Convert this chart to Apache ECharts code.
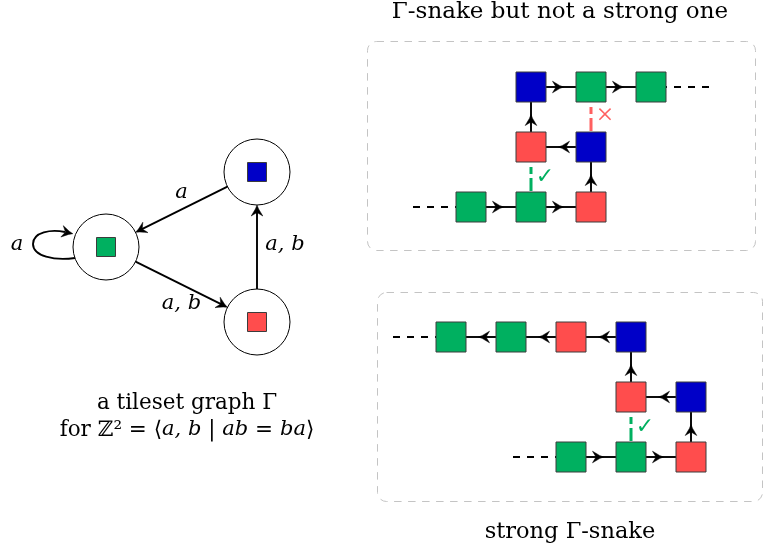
<!DOCTYPE html>
<html><head><meta charset="utf-8">
<script src="https://cdn.jsdelivr.net/npm/echarts@6/dist/echarts.min.js"></script>
<style>html,body{margin:0;padding:0;background:#fff}#c{width:764px;height:552px}</style>
</head><body><div id="c"></div>
<script>
// ---------------- data ----------------
// tileset graph Γ (node layout in abstract units)
const graphNodeTile = ['green', 'blue', 'red'];
const graphNodeX = [0, 2, 2];
const graphNodeY = [0, 1, -1];
const graphEdgeFrom = [1, 0, 2];
const graphEdgeTo = [0, 2, 1];
const graphEdgeLabel = ['a', 'a, b', 'a, b'];
const graphEdgeLabelSide = ['above', 'below', 'right'];
const graphLoopNode = [0];
const graphLoopLabel = ['a'];
const graphCaption1 = 'a tileset graph Γ';
const graphCaption2 = '{r|for ℤ² = ⟨}{i|a, b}{r| | }{i|ab}{r| = }{i|ba}{r|⟩}';

// Γ-snake that is not strong (cells in walking order)
const snake1Title = 'Γ-snake but not a strong one';
const snake1Tile = ['green', 'green', 'red', 'blue', 'red', 'blue', 'green', 'green'];
const snake1Col = [0, 1, 2, 2, 1, 1, 2, 3];
const snake1Row = [0, 0, 0, 1, 1, 2, 2, 2];
const snake1CheckA = [4, 6];
const snake1CheckB = [1, 3];
const snake1CheckOk = [true, false];

// strong Γ-snake
const snake2Title = 'strong Γ-snake';
const snake2Tile = ['green', 'green', 'red', 'blue', 'red', 'blue', 'red', 'green', 'green'];
const snake2Col = [2, 3, 4, 4, 3, 3, 2, 1, 0];
const snake2Row = [0, 0, 0, 1, 1, 2, 2, 2, 2];
const snake2CheckA = [4];
const snake2CheckB = [1];
const snake2CheckOk = [true];

// ---------------- styles ----------------
const TILE_COLOR = { green: '#00b060', blue: '#0000c8', red: '#ff4d4d' };
const TILE_STROKE = '#3c3c3c';
const TILE = 30, NODE_TILE = 19, NODE_R = 33;
const LW = 1.9;
const SERIF = '"DejaVu Serif", serif';
const SANS = '"DejaVu Sans", sans-serif';
const OK_COLOR = '#00b060', BAD_COLOR = '#ff6060';
const LABEL_OFFSET = { above: [0, -17], below: [0, 19], right: [28, -2] };

function unit(ax, ay, bx, by) {
  const dx = bx - ax, dy = by - ay, l = Math.hypot(dx, dy);
  return [dx / l, dy / l];
}
function arrowHead(tx, ty, ux, uy) {
  const px = -uy, py = ux;
  const pts = [[0, 0], [-4, 1.6], [-8, 4.0], [-11, 5.8], [-7.5, 0], [-11, -5.8], [-8, -4.0], [-4, -1.6]]
    .map(([a, b]) => [tx + ux * a + px * b, ty + uy * a + py * b]);
  return { type: 'polygon', shape: { points: pts }, style: { fill: '#000', stroke: '#000', lineWidth: 0.5 } };
}
function txt(x, y, text, size, italic, color, family) {
  return {
    type: 'text', x: x, y: y,
    style: {
      text: text, fontSize: size, fontFamily: family || SERIF, fontStyle: italic ? 'italic' : 'normal',
      fill: color || '#000', align: 'center', verticalAlign: 'middle', textAlign: 'center', textVerticalAlign: 'middle'
    }
  };
}

// ---------------- series builders ----------------
function cs(gi, data, renderItem) {
  return { type: 'custom', coordinateSystem: 'cartesian2d', xAxisIndex: gi, yAxisIndex: gi,
    silent: true, animation: false, data: data, renderItem: renderItem };
}

function graphSeries() {
  const edges = cs(0, graphEdgeFrom.map((f, i) => [graphNodeX[f], graphNodeY[f], graphNodeX[graphEdgeTo[i]], graphNodeY[graphEdgeTo[i]]]),
    (params, api) => {
      const a = api.coord([api.value(0), api.value(1)]);
      const b = api.coord([api.value(2), api.value(3)]);
      const [ux, uy] = unit(a[0], a[1], b[0], b[1]);
      const s = [a[0] + ux * NODE_R, a[1] + uy * NODE_R];
      const t = [b[0] - ux * NODE_R, b[1] - uy * NODE_R];
      const i = params.dataIndex;
      const mid = [(a[0] + b[0]) / 2, (a[1] + b[1]) / 2];
      const off = LABEL_OFFSET[graphEdgeLabelSide[i]];
      return { type: 'group', children: [
        { type: 'line', shape: { x1: s[0], y1: s[1], x2: t[0] - ux * 6, y2: t[1] - uy * 6 }, style: { stroke: '#000', lineWidth: LW } },
        arrowHead(t[0], t[1], ux, uy),
        txt(mid[0] + off[0], mid[1] + off[1], graphEdgeLabel[i], 21, true)
      ] };
    });
  const loops = cs(0, graphLoopNode.map(n => [graphNodeX[n], graphNodeY[n]]), (params, api) => {
    const c = api.coord([api.value(0), api.value(1)]);
    const X = c[0], Y = c[1];
    const end = [X - 41, Y - 15], cp2 = [X - 55, Y - 18];
    const [ux, uy] = unit(cp2[0], cp2[1], end[0], end[1]);
    return { type: 'group', children: [
      { type: 'bezierCurve', shape: { x1: X - 31, y1: Y + 11, cpx1: X - 52, cpy1: Y + 14, cpx2: X - 73, cpy2: Y + 9, x2: X - 73, y2: Y - 3 },
        style: { stroke: '#000', lineWidth: LW, fill: null } },
      { type: 'bezierCurve', shape: { x1: X - 73, y1: Y - 3, cpx1: X - 73, cpy1: Y - 15, cpx2: cp2[0], cpy2: cp2[1], x2: end[0], y2: end[1] },
        style: { stroke: '#000', lineWidth: LW, fill: null } },
      arrowHead(end[0] + ux * 8, end[1] + uy * 8, ux, uy),
      txt(X - 89, Y - 2, graphLoopLabel[params.dataIndex], 21, true)
    ] };
  });
  const nodes = cs(0, graphNodeX.map((x, i) => [x, graphNodeY[i]]), (params, api) => {
    const c = api.coord([api.value(0), api.value(1)]);
    return { type: 'group', children: [
      { type: 'circle', shape: { cx: c[0], cy: c[1], r: NODE_R }, style: { fill: '#fff', stroke: '#000', lineWidth: 1 } },
      { type: 'rect', shape: { x: c[0] - NODE_TILE / 2, y: c[1] - NODE_TILE / 2, width: NODE_TILE, height: NODE_TILE },
        style: { fill: TILE_COLOR[graphNodeTile[params.dataIndex]], stroke: TILE_STROKE, lineWidth: 1 } }
    ] };
  });
  return [edges, loops, nodes];
}

function snakeSeries(gi, tiles, cols, rows, chkA, chkB, chkOk) {
  const n = tiles.length;
  const half = TILE / 2;
  const links = cs(gi, cols.slice(0, -1).map((c, i) => [c, rows[i], cols[i + 1], rows[i + 1]]), (params, api) => {
    const a = api.coord([api.value(0), api.value(1)]);
    const b = api.coord([api.value(2), api.value(3)]);
    const [ux, uy] = unit(a[0], a[1], b[0], b[1]);
    const mid = [(a[0] + b[0]) / 2, (a[1] + b[1]) / 2];
    return { type: 'group', children: [
      { type: 'line', shape: { x1: a[0] + ux * half, y1: a[1] + uy * half, x2: b[0] - ux * half, y2: b[1] - uy * half },
        style: { stroke: '#000', lineWidth: LW } },
      arrowHead(mid[0] + ux * 2.5, mid[1] + uy * 2.5, ux, uy)
    ] };
  });
  const leads = cs(gi, [[cols[0], rows[0], cols[1], rows[1]], [cols[n - 1], rows[n - 1], cols[n - 2], rows[n - 2]]], (params, api) => {
    const a = api.coord([api.value(0), api.value(1)]);
    const b = api.coord([api.value(2), api.value(3)]);
    const [ux, uy] = unit(b[0], b[1], a[0], a[1]);
    return { type: 'line', shape: { x1: a[0] + ux * (half + 43), y1: a[1] + uy * (half + 43), x2: a[0] + ux * half, y2: a[1] + uy * half },
      style: { stroke: '#000', lineWidth: LW, lineDash: [7, 7] } };
  });
  const checks = cs(gi, chkA.map((ia, k) => [cols[ia], rows[ia], cols[chkB[k]], rows[chkB[k]]]), (params, api) => {
    const a = api.coord([api.value(0), api.value(1)]);
    const b = api.coord([api.value(2), api.value(3)]);
    const [ux, uy] = unit(a[0], a[1], b[0], b[1]);
    const ok = chkOk[params.dataIndex];
    const col = ok ? OK_COLOR : BAD_COLOR;
    const mid = [(a[0] + b[0]) / 2, (a[1] + b[1]) / 2];
    return { type: 'group', children: [
      { type: 'line', shape: { x1: a[0] + ux * (half + 5), y1: a[1] + uy * (half + 5), x2: b[0] - ux * (half + 1), y2: b[1] - uy * (half + 1) },
        style: { stroke: col, lineWidth: 3, lineDash: [7, 4, 13, 0] } },
      ok ? txt(mid[0] + 14, mid[1], '✓', 22, false, col, SANS)
         : txt(mid[0] + 14, mid[1] - 1, '×', 30, false, col, '"Liberation Serif", serif')
    ] };
  });
  const cells = cs(gi, cols.map((c, i) => [c, rows[i]]), (params, api) => {
    const c = api.coord([api.value(0), api.value(1)]);
    return { type: 'rect', shape: { x: c[0] - half, y: c[1] - half, width: TILE, height: TILE },
      style: { fill: TILE_COLOR[tiles[params.dataIndex]], stroke: TILE_STROKE, lineWidth: 1 } };
  });
  return [links, leads, checks, cells];
}

// ---------------- chart ----------------
const chart = echarts.init(document.getElementById('c'), null, { renderer: 'canvas' });
const titleStyle = (text, size) => ({ text: text, fontSize: size, fontFamily: SERIF, fill: '#000', textAlign: 'center', textVerticalAlign: 'middle', align: 'center', verticalAlign: 'middle' });
const boxStyle = { fill: 'none', stroke: '#c4c4c4', lineWidth: 1, lineDash: [7.5, 6.5] };
chart.setOption({
  animation: false,
  backgroundColor: '#fff',
  grid: [
    { left: 30.5, top: 97, width: 302, height: 300 },
    { left: 411, top: 27, width: 300, height: 240 },
    { left: 391, top: 277, width: 360, height: 240 }
  ],
  xAxis: [
    { gridIndex: 0, type: 'value', min: -1, max: 3, show: false },
    { gridIndex: 1, type: 'value', min: -1, max: 4, show: false },
    { gridIndex: 2, type: 'value', min: -1, max: 5, show: false }
  ],
  yAxis: [
    { gridIndex: 0, type: 'value', min: -2, max: 2, show: false },
    { gridIndex: 1, type: 'value', min: -1, max: 3, show: false },
    { gridIndex: 2, type: 'value', min: -1, max: 3, show: false }
  ],
  graphic: { elements: [
    { type: 'rect', z: -1, shape: { x: 367.5, y: 41.5, width: 388, height: 209, r: 9 }, style: boxStyle },
    { type: 'rect', z: -1, shape: { x: 377.5, y: 292.5, width: 385, height: 209, r: 9 }, style: boxStyle },
    { type: 'text', x: 560, y: 12, style: titleStyle(snake1Title, 23) },
    { type: 'text', x: 570, y: 532, style: titleStyle(snake2Title, 22.5) },
    { type: 'text', x: 187, y: 403, style: titleStyle(graphCaption1, 21.5) },
    { type: 'text', x: 187, y: 430, style: Object.assign(titleStyle(graphCaption2, 21.5), {
      rich: { r: { fontSize: 21.5, fontFamily: SERIF }, i: { fontSize: 21, fontFamily: SERIF, fontStyle: 'italic' } } }) }
  ] },
  series: [].concat(
    graphSeries(),
    snakeSeries(1, snake1Tile, snake1Col, snake1Row, snake1CheckA, snake1CheckB, snake1CheckOk),
    snakeSeries(2, snake2Tile, snake2Col, snake2Row, snake2CheckA, snake2CheckB, snake2CheckOk)
  )
});
</script></body></html>
